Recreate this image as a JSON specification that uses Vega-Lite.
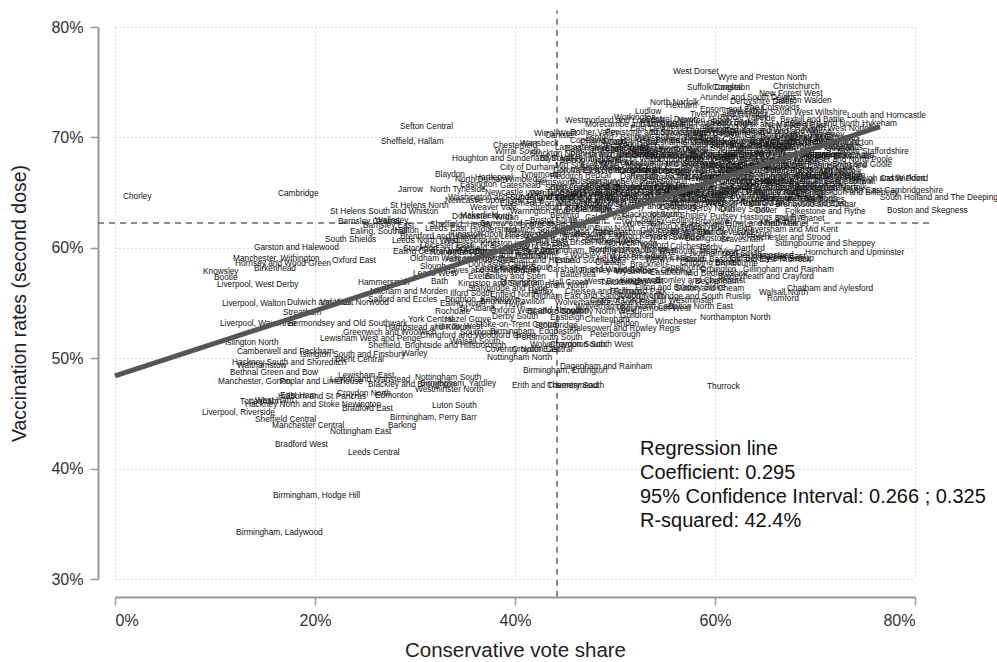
{
"$schema":"https://vega.github.io/schema/vega-lite/v6.json",
"width":800,"height":552,
"autosize":{"type":"none"},
"padding":{"left":115,"top":27,"right":82,"bottom":83},
"background":"white",
"config":{"view":{"stroke":null},"font":"Liberation Sans"},
"datasets":{
"labels":[
{"n":"Chorley","c":0.8,"v":64.6},{"n":"Cambridge","c":16.3,"v":64.9},{"n":"Sefton Central","c":28.5,"v":70.9},{"n":"Sheffield, Hallam","c":26.6,"v":69.6},{"n":"Jarrow","c":28.3,"v":65.2},{"n":"Blaydon","c":32.0,"v":66.6},{"n":"North Tyneside","c":31.5,"v":65.2},{"n":"St Helens South and Whiston","c":21.5,"v":63.2},{"n":"St Helens North","c":27.5,"v":63.8},{"n":"Barnsley Central","c":22.3,"v":62.3},{"n":"Wallasey","c":26.0,"v":62.4},{"n":"Barnsley East","c":24.8,"v":62.0},{"n":"Ealing, Southall","c":23.5,"v":61.4},{"n":"Halton","c":28.0,"v":61.5},{"n":"South Shields","c":21.0,"v":60.7},{"n":"Leeds North West","c":27.7,"v":60.6},{"n":"Brentford and Isleworth","c":28.5,"v":61.0},{"n":"Ealing Central and Acton","c":27.8,"v":59.6},{"n":"Stockport","c":28.8,"v":59.9},{"n":"Garston and Halewood","c":13.9,"v":60.0},{"n":"Manchester, Withington","c":11.8,"v":59.0},{"n":"Hornsey and Wood Green","c":12.0,"v":58.5},{"n":"Birkenhead","c":13.9,"v":58.1},{"n":"Oxford East","c":21.7,"v":58.8},{"n":"Knowsley","c":8.8,"v":57.8},{"n":"Bootle","c":9.9,"v":57.3},{"n":"Liverpool, West Derby","c":10.2,"v":56.6},{"n":"Liverpool, Walton","c":10.7,"v":54.9},{"n":"Dulwich and West Norwood","c":17.2,"v":55.0},{"n":"Vauxhall","c":20.5,"v":55.0},{"n":"Streatham","c":16.8,"v":54.1},{"n":"Hammersmith","c":24.3,"v":56.8},{"n":"Leeds West","c":29.8,"v":57.6},{"n":"Bath","c":31.6,"v":56.9},{"n":"Mitcham and Morden","c":25.5,"v":56.0},{"n":"Salford and Eccles","c":25.3,"v":55.3},{"n":"Ealing North","c":32.5,"v":54.9},{"n":"Rochdale","c":32.0,"v":54.2},{"n":"Liverpool, Wavertree","c":10.5,"v":53.1},{"n":"Bermondsey and Old Southwark","c":17.3,"v":53.1},{"n":"York Central","c":29.3,"v":53.5},{"n":"Greenwich and Woolwich","c":22.8,"v":52.3},{"n":"Lewisham West and Penge","c":20.5,"v":51.7},{"n":"Islington North","c":11.0,"v":51.4},{"n":"Camberwell and Peckham","c":12.2,"v":50.6},{"n":"Islington South and Finsbury","c":18.5,"v":50.3},{"n":"Warley","c":28.7,"v":50.4},{"n":"Sheffield, Brightside and Hillsborough","c":25.3,"v":51.1},{"n":"Hackney South and Shoreditch","c":11.7,"v":49.6},{"n":"Brent Central","c":22.0,"v":49.8},{"n":"Walthamstow","c":12.2,"v":49.3},{"n":"Bethnal Green and Bow","c":11.5,"v":48.7},{"n":"Manchester, Gorton","c":10.3,"v":47.8},{"n":"Poplar and Limehouse","c":16.5,"v":47.8},{"n":"Lewisham East","c":22.3,"v":48.4},{"n":"Leyton and Wanstead","c":21.5,"v":48.0},{"n":"Blackley and Broughton","c":25.3,"v":47.6},{"n":"Croydon North","c":22.2,"v":46.8},{"n":"Edmonton","c":26.0,"v":46.6},{"n":"Nottingham South","c":30.0,"v":48.2},{"n":"Birmingham, Yardley","c":30.5,"v":47.7},{"n":"Westminster North","c":30.0,"v":47.1},{"n":"Tottenham","c":12.5,"v":46.0},{"n":"Holborn and St Pancras","c":16.3,"v":46.5},{"n":"East Ham","c":16.5,"v":46.6},{"n":"West Ham","c":14.0,"v":46.1},{"n":"Hackney North and Stoke Newington","c":13.0,"v":45.8},{"n":"Bradford East","c":22.7,"v":45.4},{"n":"Liverpool, Riverside","c":8.7,"v":45.0},{"n":"Sheffield Central","c":14.0,"v":44.4},{"n":"Manchester Central","c":15.7,"v":43.9},{"n":"Nottingham East","c":21.5,"v":43.3},{"n":"Birmingham, Perry Barr","c":27.5,"v":44.6},{"n":"Barking","c":27.3,"v":43.9},{"n":"Luton South","c":31.7,"v":45.7},{"n":"Bradford West","c":16.0,"v":42.1},{"n":"Leeds Central","c":23.3,"v":41.4},{"n":"Birmingham, Hodge Hill","c":15.8,"v":37.5},{"n":"Birmingham, Ladywood","c":12.1,"v":34.2},
{"n":"Wirral West","c":41.9,"v":70.3},{"n":"Chesterfield","c":37.8,"v":69.2},{"n":"Wansbeck","c":40.5,"v":69.4},{"n":"Wirral South","c":38.0,"v":68.7},{"n":"Houghton and Sunderland South","c":33.7,"v":68.0},{"n":"Blyth Valley","c":42.5,"v":68.0},{"n":"Don Valley","c":43.8,"v":67.0},{"n":"North Durham","c":34.0,"v":66.1},{"n":"Wimbledon","c":39.0,"v":66.1},{"n":"Washington and Sunderland West","c":33.3,"v":64.5},{"n":"Sunderland Central","c":39.5,"v":64.5},{"n":"Warwick and Leamington","c":43.0,"v":64.5},{"n":"Doncaster North","c":33.7,"v":62.8},{"n":"Sheffield, Heeley","c":31.5,"v":62.1},{"n":"Bury South","c":44.7,"v":60.9},{"n":"Doncaster Central","c":35.3,"v":58.4},{"n":"Carshalton and Wallington","c":43.2,"v":58.0},{"n":"Exeter","c":35.3,"v":57.4},{"n":"Batley and Spen","c":37.0,"v":57.4},{"n":"Kingston and Surbiton","c":34.3,"v":56.7},{"n":"Stalybridge and Hyde","c":35.3,"v":56.3},{"n":"Halifax","c":41.3,"v":56.0},{"n":"Oldham East and Saddleworth","c":41.8,"v":55.5},{"n":"Wolverhampton South East","c":44.0,"v":55.0},{"n":"Uxbridge and South Ruislip","c":53.5,"v":55.5},{"n":"Bradford South","c":41.2,"v":54.2},{"n":"Coventry North West","c":44.5,"v":54.2},{"n":"Derby South","c":37.7,"v":53.7},{"n":"Stoke-on-Trent Central","c":36.0,"v":53.0},{"n":"Hendon","c":49.5,"v":53.1},{"n":"Birmingham, Edgbaston","c":37.5,"v":52.4},{"n":"Portsmouth South","c":40.1,"v":51.8},{"n":"Peterborough","c":47.5,"v":52.1},{"n":"Coventry North East","c":37.0,"v":50.7},{"n":"Croydon Central","c":39.7,"v":50.7},{"n":"Nottingham North","c":37.2,"v":50.0},{"n":"Dagenham and Rainham","c":44.5,"v":49.2},{"n":"Birmingham, Erdington","c":40.8,"v":48.8},{"n":"Erith and Thamesmead","c":39.7,"v":47.5},{"n":"Coventry South","c":43.2,"v":47.5},{"n":"Thurrock","c":59.2,"v":47.4},{"n":"Northampton North","c":58.5,"v":53.6},{"n":"Bolton North East","c":55.3,"v":54.6},{"n":"Walsall North","c":64.4,"v":55.9},{"n":"Romford","c":65.2,"v":55.4},{"n":"Chatham and Aylesford","c":67.2,"v":56.3},{"n":"Bexleyheath and Crayford","c":60.3,"v":57.4},{"n":"Gillingham and Rainham","c":62.8,"v":58.0},{"n":"South Basildon and East Thurrock","c":57.0,"v":58.9},{"n":"Hornchurch and Upminster","c":69.0,"v":59.5},{"n":"Sittingbourne and Sheppey","c":66.0,"v":60.3},{"n":"Blackpool South","c":50.7,"v":63.0},{"n":"Worcester","c":50.7,"v":62.2},{"n":"Stroud","c":48.7,"v":69.6},{"n":"York Outer","c":50.3,"v":69.3},{"n":"Totnes","c":54.0,"v":69.7},{"n":"Westmorland and Lonsdale","c":45.0,"v":71.5},{"n":"Workington","c":49.9,"v":71.8},{"n":"Rother Valley","c":45.5,"v":70.4},{"n":"Penistone and Stocksbridge","c":49.0,"v":70.4},{"n":"East Devon","c":51.5,"v":70.8},{"n":"Newton Abbot","c":56.2,"v":71.5},{"n":"North Norfolk","c":53.5,"v":73.1},{"n":"Hexham","c":55.1,"v":72.8},{"n":"Arundel and South Downs","c":58.5,"v":73.6},{"n":"Epsom and Ewell","c":58.5,"v":72.5},{"n":"Suffolk Coastal","c":57.2,"v":74.5},{"n":"Congleton","c":59.7,"v":74.5},{"n":"West Dorset","c":55.8,"v":75.9},{"n":"Wyre and Preston North","c":60.3,"v":75.4},{"n":"Christchurch","c":65.8,"v":74.6},{"n":"New Forest West","c":64.4,"v":73.9},{"n":"Louth and Horncastle","c":73.2,"v":71.9},{"n":"Sleaford and North Hykeham","c":67.5,"v":71.2},{"n":"Clacton","c":73.0,"v":69.5},{"n":"South Staffordshire","c":72.3,"v":68.7},{"n":"Aldridge-Brownhills","c":68.5,"v":68.2},{"n":"Brigg and Goole","c":71.7,"v":67.5},{"n":"Mid Norfolk","c":70.5,"v":66.9},{"n":"Rayleigh and Wickford","c":73.0,"v":66.2},{"n":"Castle Point","c":76.5,"v":66.2},{"n":"North East Cambridgeshire","c":72.8,"v":65.1},{"n":"South Holland and The Deepings","c":76.5,"v":64.5},{"n":"Boston and Skegness","c":77.2,"v":63.3},
{"n":"Derbyshire Dales","c":61.5,"v":73.2},{"n":"The Cotswolds","c":63.0,"v":72.7},{"n":"Saffron Walden","c":66.0,"v":73.3},{"n":"Tewkesbury","c":61.0,"v":72.3},{"n":"South West Wiltshire","c":65.5,"v":72.2},{"n":"Ludlow","c":52.0,"v":72.3},{"n":"Tiverton and Honiton","c":57.5,"v":72.0},{"n":"Ribble Valley","c":60.5,"v":71.8},{"n":"Fylde","c":64.0,"v":71.7},{"n":"Bexhill and Battle","c":66.5,"v":71.6},{"n":"Central Devon","c":53.0,"v":71.6},{"n":"South Dorset","c":59.5,"v":71.3},{"n":"Thirsk and Malton","c":62.0,"v":71.1},{"n":"New Forest East","c":65.0,"v":71.0},{"n":"North West Norfolk","c":69.0,"v":70.8},{"n":"Morecambe and Lunesdale","c":47.0,"v":71.1},{"n":"Harrogate and Knaresborough","c":52.5,"v":71.2},{"n":"Skipton and Ripon","c":55.5,"v":70.9},{"n":"Stone","c":59.0,"v":70.7},{"n":"Torridge and West Devon","c":61.0,"v":70.6},{"n":"Rutland and Melton","c":64.5,"v":70.5},{"n":"Bridgwater and West Somerset","c":53.5,"v":70.4},{"n":"North Dorset","c":57.5,"v":70.3},{"n":"Havant","c":60.5,"v":70.2},{"n":"Gainsborough","c":63.0,"v":70.1},{"n":"Great Yarmouth","c":66.0,"v":70.0},{"n":"Waveney","c":69.5,"v":70.2},{"n":"Carlisle","c":43.0,"v":70.1},{"n":"Wells","c":52.0,"v":69.9},{"n":"East Yorkshire","c":55.5,"v":69.7},{"n":"North Cornwall","c":58.5,"v":69.8},{"n":"Bognor Regis and Littlehampton","c":61.5,"v":69.6},{"n":"Grantham and Stamford","c":65.5,"v":69.5},{"n":"Maldon","c":69.0,"v":69.8},{"n":"Copeland","c":45.5,"v":69.7},{"n":"Scarborough and Whitby","c":56.5,"v":69.3},{"n":"Somerton and Frome","c":59.5,"v":69.2},{"n":"South West Devon","c":62.5,"v":69.1},{"n":"Staffordshire Moorlands","c":66.0,"v":69.0},{"n":"Broadland","c":70.0,"v":69.1},{"n":"Lancaster and Fleetwood","c":44.0,"v":69.0},{"n":"Truro and Falmouth","c":47.5,"v":68.9},{"n":"Warrington South","c":51.5,"v":68.8},{"n":"North Devon","c":54.5,"v":68.9},{"n":"Yeovil","c":57.5,"v":68.7},{"n":"Stratford-on-Avon","c":60.5,"v":68.6},{"n":"Bosworth","c":63.5,"v":68.5},{"n":"North Warwickshire","c":66.5,"v":68.4},{"n":"Cannock Chase","c":70.0,"v":68.3},{"n":"Stockton North","c":41.5,"v":68.5},{"n":"Penrith and The Border","c":45.5,"v":68.4},{"n":"Camborne and Redruth","c":49.5,"v":68.3},{"n":"Shrewsbury and Atcham","c":53.0,"v":68.2},{"n":"Forest of Dean","c":56.5,"v":68.1},{"n":"Wyre Forest","c":59.5,"v":68.0},{"n":"Bromsgrove","c":62.5,"v":67.9},{"n":"South Norfolk","c":65.5,"v":67.8},{"n":"Bishop Auckland","c":44.5,"v":67.9},{"n":"High Peak","c":48.0,"v":67.7},{"n":"Kenilworth and Southam","c":51.0,"v":67.6},{"n":"Mid Worcestershire","c":55.0,"v":67.5},{"n":"Sutton Coldfield","c":58.5,"v":67.4},{"n":"Tamworth","c":62.0,"v":67.3},{"n":"Burton","c":65.0,"v":67.2},{"n":"Sedgefield","c":46.5,"v":67.2},{"n":"Macclesfield","c":50.0,"v":67.0},{"n":"Harborough","c":53.0,"v":66.9},{"n":"Stafford","c":56.0,"v":66.8},{"n":"Eddisbury","c":59.0,"v":66.7},{"n":"Tatton","c":62.5,"v":66.6},{"n":"North West Leicestershire","c":65.5,"v":66.5},{"n":"Mid Derbyshire","c":69.0,"v":66.4},{"n":"City of Durham","c":38.5,"v":67.2},{"n":"Redcar","c":47.0,"v":66.5},{"n":"Darlington","c":50.5,"v":66.4},{"n":"Crewe and Nantwich","c":53.5,"v":66.3},{"n":"Newark","c":57.0,"v":66.2},{"n":"Haltemprice and Howden","c":60.0,"v":66.0},{"n":"Lichfield","c":63.5,"v":65.9},{"n":"Selby and Ainsty","c":66.5,"v":65.8},{"n":"Tynemouth","c":40.5,"v":66.6},{"n":"Bolsover","c":45.5,"v":66.0},{"n":"Leigh","c":49.0,"v":65.9},{"n":"Keighley","c":52.5,"v":65.8},{"n":"Erewash","c":56.0,"v":65.6},{"n":"Amber Valley","c":59.5,"v":65.5},{"n":"Sherwood","c":63.0,"v":65.4},{"n":"Wellingborough","c":66.5,"v":65.3},{"n":"Hartlepool","c":36.0,"v":66.3},{"n":"Hemsworth","c":42.0,"v":65.9},{"n":"Ashfield","c":46.5,"v":65.5},{"n":"Bassetlaw","c":50.0,"v":65.4},{"n":"Mansfield","c":53.5,"v":65.3},{"n":"Great Grimsby","c":57.0,"v":65.2},{"n":"Scunthorpe","c":60.5,"v":65.1},{"n":"Dudley North","c":64.0,"v":65.0},{"n":"Kettering","c":67.5,"v":64.9},{"n":"Basildon and Billericay","c":70.0,"v":65.0},{"n":"Easington","c":34.5,"v":65.7},{"n":"Gateshead","c":38.5,"v":65.6},{"n":"Rossendale and Darwen","c":43.5,"v":65.4},{"n":"Burnley","c":48.0,"v":65.0},{"n":"Blackpool North and Cleveleys","c":51.0,"v":64.9},{"n":"Pendle","c":55.0,"v":64.8},{"n":"Nuneaton","c":58.0,"v":64.7},{"n":"Bolton West","c":61.5,"v":64.6},{"n":"Stoke-on-Trent North","c":64.5,"v":64.4},{"n":"Cleethorpes","c":68.5,"v":64.3},{"n":"Newcastle upon Tyne North","c":37.0,"v":65.0},{"n":"Wentworth and Dearne","c":41.5,"v":64.9},{"n":"Normanton, Pontefract and Castleford","c":45.5,"v":64.8},{"n":"North West Durham","c":47.0,"v":64.2},{"n":"Heywood and Middleton","c":52.0,"v":64.3},{"n":"Wakefield","c":55.5,"v":64.2},{"n":"Stoke-on-Trent South","c":59.0,"v":64.1},{"n":"Rochford and Southend East","c":62.5,"v":64.0},{"n":"Brentwood and Ongar","c":66.0,"v":63.9},{"n":"Stockton South","c":46.5,"v":63.9},{"n":"Morley and Outwood","c":50.5,"v":63.7},{"n":"Dewsbury","c":54.5,"v":63.6},{"n":"Derby North","c":57.5,"v":63.5},{"n":"Dudley South","c":60.5,"v":63.4},{"n":"Dover","c":64.0,"v":63.3},{"n":"Folkestone and Hythe","c":67.0,"v":63.2},{"n":"Newcastle upon Tyne East","c":33.0,"v":64.2},{"n":"Ellesmere Port and Neston","c":38.5,"v":64.0},{"n":"Stretford and Urmston","c":41.5,"v":63.6},{"n":"Colne Valley","c":45.0,"v":63.4},{"n":"Lincoln","c":48.5,"v":63.3},{"n":"Ipswich","c":53.5,"v":63.0},{"n":"Shipley","c":56.5,"v":62.9},{"n":"Pudsey","c":59.5,"v":62.8},{"n":"Hastings and Rye","c":62.5,"v":62.7},{"n":"South Thanet","c":66.0,"v":62.6},{"n":"Weaver Vale","c":35.5,"v":63.6},{"n":"Warrington North","c":39.5,"v":63.2},{"n":"Bedford","c":43.5,"v":62.9},{"n":"Calder Valley","c":47.0,"v":62.7},{"n":"Crawley","c":52.0,"v":62.5},{"n":"Gedling","c":55.0,"v":62.4},{"n":"Broxtowe","c":58.0,"v":62.3},{"n":"Elmet and Rothwell","c":61.0,"v":62.2},{"n":"North Thanet","c":64.5,"v":62.2},{"n":"Makerfield","c":34.5,"v":62.9},{"n":"Wigan","c":38.0,"v":62.7},{"n":"Bristol South","c":41.5,"v":62.4},{"n":"Hyndburn","c":45.5,"v":62.3},{"n":"Milton Keynes North","c":53.5,"v":61.9},{"n":"Telford","c":56.5,"v":61.8},{"n":"The Wrekin","c":59.5,"v":61.7},{"n":"Faversham and Mid Kent","c":63.0,"v":61.6},{"n":"Barrow and Furness","c":36.5,"v":62.2},{"n":"Bolton South East","c":40.5,"v":62.0},{"n":"Canterbury","c":44.0,"v":61.8},{"n":"Bury North","c":48.0,"v":61.7},{"n":"Gloucester","c":52.5,"v":61.5},{"n":"Stevenage","c":55.5,"v":61.4},{"n":"Harlow","c":58.5,"v":61.3},{"n":"Aylesbury","c":62.0,"v":61.2},{"n":"Huddersfield","c":35.5,"v":61.6},{"n":"Norwich South","c":39.0,"v":61.5},{"n":"Southampton, Test","c":42.5,"v":61.3},{"n":"Reading East","c":46.0,"v":61.2},{"n":"Milton Keynes South","c":50.0,"v":61.0},{"n":"North Swindon","c":53.5,"v":60.9},{"n":"Basingstoke","c":57.0,"v":60.8},{"n":"Gravesham","c":60.5,"v":60.7},{"n":"Rochester and Strood","c":63.5,"v":60.9},{"n":"Leeds East","c":31.0,"v":61.7},{"n":"Kingston upon Hull West and Hessle","c":33.5,"v":61.2},{"n":"Leicester West","c":38.5,"v":61.0},{"n":"Bristol East","c":41.0,"v":60.6},{"n":"Bristol North West","c":45.5,"v":60.4},{"n":"Norwich North","c":49.0,"v":60.3},{"n":"Watford","c":52.5,"v":60.2},{"n":"Colchester","c":55.5,"v":60.1},{"n":"Corby","c":58.5,"v":60.0},{"n":"Dartford","c":62.0,"v":59.9},{"n":"Middlesbrough","c":33.0,"v":60.6},{"n":"Kingston upon Hull East","c":36.5,"v":60.3},{"n":"City of Chester","c":40.0,"v":60.1},{"n":"Southampton, Itchen","c":47.5,"v":59.8},{"n":"Reading West","c":51.0,"v":59.7},{"n":"Plymouth, Moor View","c":54.5,"v":59.6},{"n":"Northampton South","c":57.5,"v":59.4},{"n":"Hemel Hempstead","c":61.0,"v":59.3},{"n":"Harrow East","c":64.5,"v":59.2},{"n":"Leicester East","c":30.5,"v":60.2},{"n":"Sheffield South East","c":34.0,"v":59.9},{"n":"Birmingham, Northfield","c":42.5,"v":59.7},{"n":"Worsley and Eccles South","c":45.5,"v":59.3},{"n":"West Bromwich East","c":49.5,"v":59.1},{"n":"Welwyn Hatfield","c":53.0,"v":58.9},{"n":"Chipping Barnet","c":56.5,"v":58.6},{"n":"Broxbourne","c":60.0,"v":58.5},{"n":"Rotherham","c":31.5,"v":59.5},{"n":"Birmingham, Selly Oak","c":36.0,"v":59.6},{"n":"Ilford North","c":40.0,"v":59.2},{"n":"Enfield Southgate","c":44.0,"v":58.8},{"n":"Cheadle","c":48.0,"v":58.6},{"n":"Bracknell","c":51.5,"v":58.4},{"n":"Spelthorne","c":55.0,"v":58.2},{"n":"Orpington","c":58.5,"v":58.0},{"n":"Old Bexley and Sidcup","c":61.5,"v":59.0},{"n":"Oldham West and Royton","c":29.5,"v":59.0},{"n":"Ashton-under-Lyne","c":33.0,"v":58.9},{"n":"Feltham and Heston","c":38.5,"v":58.8},{"n":"Finchley and Golders Green","c":46.5,"v":57.9},{"n":"Wycombe","c":50.0,"v":57.8},{"n":"Eastbourne","c":53.5,"v":57.7},{"n":"Mid Bedfordshire","c":57.0,"v":57.6},{"n":"Bromley and Chislehurst","c":54.0,"v":57.0},{"n":"Beckenham","c":58.0,"v":56.9},{"n":"Slough","c":30.5,"v":58.3},{"n":"Birmingham, Hall Green","c":38.5,"v":56.8},{"n":"Putney","c":40.0,"v":57.9},{"n":"Battersea","c":44.5,"v":57.5},{"n":"Hayes and Harlington","c":33.0,"v":57.9},{"n":"Leicester South","c":38.0,"v":58.2},{"n":"West Bromwich West","c":47.0,"v":56.9},{"n":"Kingswood","c":50.5,"v":57.0},{"n":"Filton and Bradley Stoke","c":52.0,"v":56.4},{"n":"Sutton and Cheam","c":56.0,"v":56.3},{"n":"Ilford South","c":33.5,"v":55.8},{"n":"Enfield North","c":37.5,"v":55.7},{"n":"Chelsea and Fulham","c":45.0,"v":56.0},{"n":"Cities of London and Westminster","c":47.5,"v":55.2},{"n":"Richmond Park","c":49.5,"v":56.0},{"n":"Brighton, Kemptown","c":33.0,"v":55.3},{"n":"Brighton, Pavilion","c":36.5,"v":55.1},{"n":"Hove","c":39.0,"v":54.8},{"n":"Wolverhampton North East","c":46.0,"v":54.6},{"n":"Bournemouth West","c":50.5,"v":54.5},{"n":"St Albans","c":34.5,"v":54.5},{"n":"Oxford West and Abingdon","c":37.5,"v":54.3},{"n":"Eastleigh","c":43.5,"v":53.6},{"n":"Cheltenham","c":47.0,"v":53.5},{"n":"Guildford","c":50.5,"v":53.8},{"n":"Winchester","c":54.0,"v":53.3},{"n":"Hazel Grove","c":33.0,"v":53.5},{"n":"Stourbridge","c":42.0,"v":52.9},{"n":"Halesowen and Rowley Regis","c":45.5,"v":52.6},{"n":"Harrow West","c":32.0,"v":52.8},{"n":"Southport","c":34.5,"v":52.3},{"n":"Wolverhampton South West","c":41.5,"v":51.2},{"n":"Chingford and Woodford Green","c":30.5,"v":52.0},{"n":"Croydon South","c":43.5,"v":51.2},{"n":"Hampstead and Kilburn","c":27.0,"v":52.7},{"n":"Walsall South","c":33.5,"v":51.5},
{"n":"Ashford","c":47.0,"v":69.95},{"n":"Banbury","c":50.5,"v":69.95},{"n":"Beaconsfield","c":54.0,"v":69.95},{"n":"Braintree","c":57.0,"v":69.95},{"n":"Buckingham","c":64.5,"v":69.95},{"n":"Bury St Edmunds","c":68.0,"v":69.95},{"n":"Charnwood","c":46.5,"v":69.45},{"n":"Chelmsford","c":50.0,"v":69.45},{"n":"Chesham and Amersham","c":53.0,"v":69.45},{"n":"Chichester","c":58.0,"v":69.45},{"n":"Chippenham","c":63.5,"v":69.45},{"n":"Daventry","c":67.5,"v":69.45},{"n":"East Hampshire","c":45.0,"v":68.95},{"n":"East Surrey","c":49.0,"v":68.95},{"n":"East Worthing and Shoreham","c":52.5,"v":68.95},{"n":"Esher and Walton","c":61.5,"v":68.95},{"n":"Fareham","c":64.5,"v":68.95},{"n":"Gosport","c":71.0,"v":68.95},{"n":"Harwich and North Essex","c":47.0,"v":68.45},{"n":"Hereford and South Herefordshire","c":51.0,"v":68.45},{"n":"Hertford and Stortford","c":57.5,"v":68.45},{"n":"Hertsmere","c":61.0,"v":68.45},{"n":"Hitchin and Harpenden","c":64.0,"v":68.45},{"n":"Horsham","c":68.0,"v":68.45},{"n":"Huntingdon","c":46.0,"v":67.95},{"n":"Isle of Wight","c":50.0,"v":67.95},{"n":"Loughborough","c":53.5,"v":67.95},{"n":"Maidenhead","c":57.0,"v":67.95},{"n":"Maidstone and The Weald","c":60.5,"v":67.95},{"n":"Meriden","c":64.0,"v":67.95},{"n":"Mid Dorset and North Poole","c":67.5,"v":67.95},{"n":"Mid Sussex","c":44.0,"v":67.45},{"n":"Mole Valley","c":48.5,"v":67.45},{"n":"Newbury","c":52.0,"v":67.45},{"n":"Newcastle-under-Lyme","c":56.5,"v":67.45},{"n":"North East Bedfordshire","c":60.0,"v":67.45},{"n":"North East Derbyshire","c":63.5,"v":67.45},{"n":"North East Hampshire","c":67.0,"v":67.45},{"n":"North East Hertfordshire","c":44.5,"v":66.95},{"n":"North East Somerset","c":48.0,"v":66.95},{"n":"North Somerset","c":51.5,"v":66.95},{"n":"North West Hampshire","c":55.0,"v":66.95},{"n":"North Wiltshire","c":58.0,"v":66.95},{"n":"Plymouth, Sutton and Devonport","c":61.0,"v":66.95},{"n":"Poole","c":64.5,"v":66.95},{"n":"Portsmouth North","c":67.5,"v":66.95},{"n":"Redditch","c":43.5,"v":66.45},{"n":"Reigate","c":51.5,"v":66.45},{"n":"Richmond (Yorks)","c":55.0,"v":66.45},{"n":"Romsey and Southampton North","c":58.5,"v":66.45},{"n":"Rugby","c":61.5,"v":66.45},{"n":"Runnymede and Weybridge","c":64.5,"v":66.45},{"n":"Rushcliffe","c":68.0,"v":66.45},{"n":"Salisbury","c":47.0,"v":65.95},{"n":"Sevenoaks","c":50.5,"v":65.95},{"n":"Solihull","c":54.5,"v":65.95},{"n":"South Cambridgeshire","c":58.0,"v":65.95},{"n":"South Derbyshire","c":61.5,"v":65.95},{"n":"South East Cambridgeshire","c":65.0,"v":65.95},{"n":"South East Cornwall","c":68.5,"v":65.95},{"n":"South Leicestershire","c":43.0,"v":65.45},{"n":"South Northamptonshire","c":48.5,"v":65.45},{"n":"South Ribble","c":51.5,"v":65.45},{"n":"South Suffolk","c":55.0,"v":65.45},{"n":"South Swindon","c":58.0,"v":65.45},{"n":"South West Bedfordshire","c":61.5,"v":65.45},{"n":"South West Hertfordshire","c":65.0,"v":65.45},{"n":"South West Norfolk","c":68.0,"v":65.45},{"n":"South West Surrey","c":44.5,"v":64.95},{"n":"St Austell and Newquay","c":49.5,"v":64.95},{"n":"St Ives","c":53.0,"v":64.95},{"n":"Surrey Heath","c":56.5,"v":64.95},{"n":"Taunton Deane","c":59.5,"v":64.95},{"n":"Tonbridge and Malling","c":63.0,"v":64.95},{"n":"Torbay","c":66.0,"v":64.95},{"n":"Tunbridge Wells","c":44.0,"v":64.45},{"n":"Wantage","c":49.0,"v":64.45},{"n":"Wealden","c":53.0,"v":64.45},{"n":"West Suffolk","c":56.5,"v":64.45},{"n":"West Worcestershire","c":60.0,"v":64.45},{"n":"Weston-super-Mare","c":63.5,"v":64.45},{"n":"Witham","c":67.0,"v":64.45},{"n":"Witney","c":44.0,"v":63.95},{"n":"Woking","c":48.0,"v":63.95},{"n":"Wokingham","c":52.0,"v":63.95},{"n":"Worthing West","c":55.5,"v":63.95},{"n":"Windsor","c":59.0,"v":63.95},{"n":"Preston","c":62.0,"v":63.95},{"n":"Blackburn","c":46.0,"v":63.45},{"n":"Devizes","c":63.5,"v":69.7},{"n":"Beverley and Holderness","c":60.5,"v":67.0},{"n":"Thornbury and Yate","c":57.0,"v":70.6},{"n":"Southend West","c":47.0,"v":60.6},{"n":"Twickenham","c":48.5,"v":56.8},{"n":"Brent North","c":43.0,"v":56.5},{"n":"Leeds North East","c":36.0,"v":58.0},{"n":"Denton and Reddish","c":35.5,"v":59.3},{"n":"Wythenshawe and Sale East","c":33.0,"v":59.6},{"n":"Middlesbrough South and East Cleveland","c":48.5,"v":61.3},{"n":"Luton North","c":50.5,"v":55.6}
],
"fit":[{"c":0,"v":48.4},{"c":76.5,"v":70.97}],
"means":[{"mc":44.2,"mv":62.25}]
},
"layer":[
{"data":{"name":"means"},"mark":{"type":"rule","color":"#666","strokeWidth":1.5,"strokeDash":[6,5]},
 "encoding":{"y":{"field":"mv","type":"quantitative","scale":{"domain":[30,80],"nice":false,"zero":false},
   "axis":{"values":[30,40,50,60,70,80],"labelExpr":"datum.value + '%'","offset":17,"domainColor":"#999","domainWidth":2,"tickColor":"#999","tickWidth":1.5,"tickSize":8,"labelFontSize":16,"labelColor":"#333","labelPadding":7,"title":"Vaccination rates (second dose)","titleFontSize":19.5,"titleFontWeight":"normal","titleColor":"#222","titlePadding":21,"grid":true,"gridColor":"#bbb","gridDash":[1,3]}},
  "x":{"datum":-1.7,"type":"quantitative","scale":{"domain":[0,80],"nice":false,"zero":false},
   "axis":{"values":[0,20,40,60,80],"labelExpr":"datum.value + '%'","offset":18,"domainColor":"#999","domainWidth":2,"tickColor":"#999","tickWidth":1.5,"tickSize":8,"labelFontSize":16,"labelColor":"#333","labelPadding":7,"title":"Conservative vote share","titleFontSize":20.5,"titleFontWeight":"normal","titleColor":"#222","titlePadding":12,"grid":true,"gridColor":"#bbb","gridDash":[1,3]}},
  "x2":{"datum":81.5}}},
{"data":{"name":"means"},"mark":{"type":"rule","color":"#666","strokeWidth":1.5,"strokeDash":[6,5]},
 "encoding":{"x":{"field":"mc","type":"quantitative"},"y":{"datum":28.4,"type":"quantitative"},"y2":{"datum":81.5}}},
{"data":{"name":"labels"},"mark":{"type":"text","align":"left","baseline":"middle","fontSize":8.3,"font":"Liberation Sans","color":"#111"},
 "encoding":{"x":{"field":"c","type":"quantitative"},"y":{"field":"v","type":"quantitative"},"text":{"field":"n"}}},
{"data":{"name":"fit"},"mark":{"type":"line","color":"#555","strokeWidth":5,"strokeCap":"butt"},
 "encoding":{"x":{"field":"c","type":"quantitative"},"y":{"field":"v","type":"quantitative"}}},
{"data":{"values":[{}]},"mark":{"type":"text","align":"left","baseline":"alphabetic","fontSize":20,"lineHeight":24,"color":"#111",
  "text":["Regression line"," Coefficient: 0.295"," 95% Confidence Interval: 0.266 ; 0.325"," R-squared: 42.4%"]},
 "encoding":{"x":{"datum":52.5,"type":"quantitative"},"y":{"datum":41.2,"type":"quantitative"}}}
]
}
